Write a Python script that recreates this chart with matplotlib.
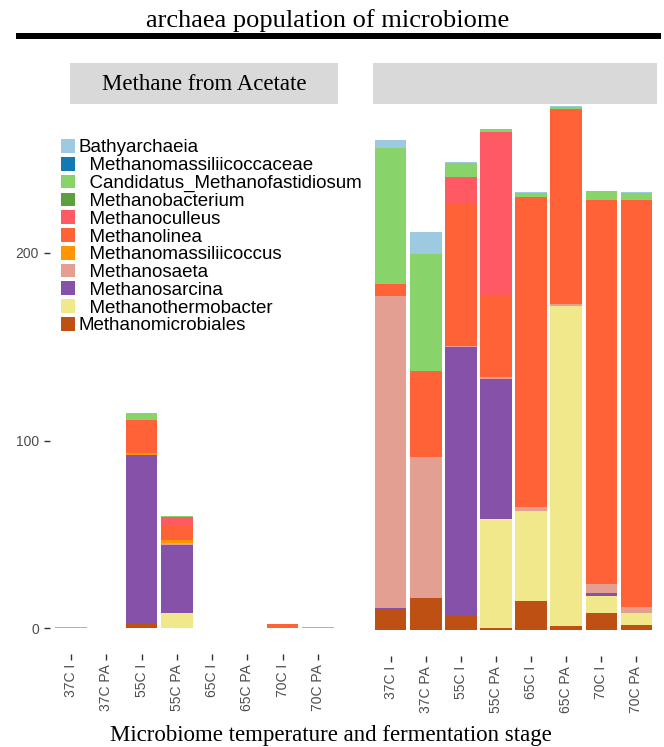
# archaea population stacked bars, two facets side by side
import matplotlib
matplotlib.use("Agg")
import matplotlib.pyplot as plt
from matplotlib.patches import Rectangle
import numpy as np

stages = ["37C I", "37C PA", "55C I", "55C PA", "65C I", "65C PA", "70C I", "70C PA"]

# legend order (top of stack first)
taxa = [
    "Bathyarchaeia", "Methanomassiliicoccaceae", "Candidatus_Methanofastidiosum",
    "Methanobacterium", "Methanoculleus", "Methanolinea", "Methanomassiliicoccus",
    "Methanosaeta", "Methanosarcina", "Methanothermobacter", "Methanomicrobiales"
]
legend_labels = [
    "Bathyarchaeia", "  Methanomassiliicoccaceae", "  Candidatus_Methanofastidiosum",
    "  Methanobacterium", "  Methanoculleus", "  Methanolinea", "  Methanomassiliicoccus",
    "  Methanosaeta", "  Methanosarcina", "  Methanothermobacter", "Methanomicrobiales"
]
colors = [
    "#9ecae1", "#1479b0", "#88d46a", "#5b9f3e", "#ff5a64", "#ff6236",
    "#ff9500", "#e3a092", "#8651a8", "#f0e88a", "#bd5012"
]

# left facet: Methane from Acetate
left = {
    "Bathyarchaeia":                 [0, 0, 0, 0, 0, 0, 0, 0],
    "Methanomassiliicoccaceae":      [0, 0, 0, 0, 0, 0, 0, 0],
    "Candidatus_Methanofastidiosum": [0, 0, 3.9, 0.5, 0, 0, 0, 0],
    "Methanobacterium":              [0.4, 0, 0, 0, 0, 0, 0, 0],
    "Methanoculleus":                [0, 0, 0, 5.0, 0.2, 0, 0, 0],
    "Methanolinea":                  [0, 0, 17.4, 7.5, 0, 0, 2.1, 0],
    "Methanomassiliicoccus":         [0, 0, 1.0, 1.4, 0, 0, 0, 0],
    "Methanosaeta":                  [0.4, 0, 0, 0.9, 0, 0, 0, 0.4],
    "Methanosarcina":                [0, 0, 90.0, 36.4, 0, 0, 0, 0],
    "Methanothermobacter":           [0, 0.2, 0, 8.0, 0, 0, 0, 0],
    "Methanomicrobiales":            [0, 0, 2.3, 0, 0, 0, 0, 0],
}

# right facet (no strip label)
right = {
    "Bathyarchaeia":                 [4.1, 11.9, 0.5, 0, 0.7, 0.9, 0, 0.5],
    "Methanomassiliicoccaceae":      [0, 0, 0, 0, 0, 0, 0, 0],
    "Candidatus_Methanofastidiosum": [72.3, 62.2, 7.8, 1.4, 2.1, 1.1, 4.6, 3.5],
    "Methanobacterium":              [0, 0, 0, 0, 0, 0, 0, 0],
    "Methanoculleus":                [0, 0, 14.4, 87.5, 0, 0, 0, 0],
    "Methanolinea":                  [6.6, 46.0, 75.4, 43.5, 165.3, 104.0, 205.2, 217.2],
    "Methanomassiliicoccus":         [0, 0, 0, 0, 0, 0, 0, 0],
    "Methanosaeta":                  [166.7, 75.2, 0.5, 0.9, 2.3, 0.9, 4.4, 3.2],
    "Methanosarcina":                [0.5, 0, 143.1, 74.7, 0, 0, 2.1, 0],
    "Methanothermobacter":           [0, 0, 0, 58.3, 47.8, 170.5, 8.7, 6.7],
    "Methanomicrobiales":            [11.0, 16.9, 8.0, 0.9, 15.6, 2.3, 9.2, 2.5],
}

W, H = 664, 747
fig = plt.figure(figsize=(W / 100, H / 100), dpi=100)

def px(x0, y0, x1, y1):
    # pixel box (top-left origin) -> figure fraction [l, b, w, h]
    return [x0 / W, 1 - y1 / H, (x1 - x0) / W, (y1 - y0) / H]

ax1 = fig.add_axes(px(50, 103, 339, 654.25))
ax2 = fig.add_axes(px(369.5, 105, 657.5, 656.25))

xpos = np.arange(1, len(stages) + 1)
handles = []
for ax, data in [(ax1, left), (ax2, right)]:
    bottom = np.zeros(len(stages))
    for name in taxa[::-1]:
        vals = np.array(data[name], dtype=float)
        col = colors[taxa.index(name)]
        b = ax.bar(xpos, vals, 0.9, bottom=bottom, color=col, linewidth=0)
        if ax is ax1:
            handles.append(b)
        bottom += vals
    ax.set_xlim(0.4, 8.6)
    ax.set_ylim(-14, 280)
    for s in ax.spines.values():
        s.set_visible(False)
    ax.set_xticks(xpos)
    ax.set_xticklabels(stages, rotation=90, fontsize=10, color="#4d4d4d",
                       family="Liberation Sans")
    ax.tick_params(axis="x", length=4, width=1, color="#333333", pad=3)

ax1.set_yticks([0, 100, 200])
ax1.set_yticklabels(["0", "100", "200"], fontsize=10, color="#4d4d4d",
                    family="Liberation Sans")
ax1.tick_params(axis="y", length=4, width=1, color="#333333", pad=4)
ax2.set_yticks([])

# legend (legend order = top of stack first)
handles = handles[::-1]
leg = fig.legend(handles, legend_labels, loc="upper left",
                 bbox_to_anchor=(61 / W, 1 - 139 / H), frameon=False,
                 prop={"family": "Liberation Sans", "size": 13.5},
                 handlelength=0.75, handleheight=0.75, handletextpad=0.2,
                 labelspacing=0.02, borderpad=0, borderaxespad=0)

# title and rule
fig.text(328 / W, 1 - 21 / H, "archaea population of microbiome", ha="center",
         va="center", family="Liberation Serif", fontsize=19)
fig.add_artist(Rectangle((16 / W, 1 - 39 / H), (661 - 16) / W, 6 / H,
                         transform=fig.transFigure, color="black", linewidth=0))

# facet strips
fig.add_artist(Rectangle((70 / W, 1 - 104 / H), (338 - 70) / W, 41 / H,
                         transform=fig.transFigure, color="#d9d9d9", linewidth=0))
fig.add_artist(Rectangle((373 / W, 1 - 104 / H), (657 - 373) / W, 41 / H,
                         transform=fig.transFigure, color="#d9d9d9", linewidth=0))
fig.text(204 / W, 1 - 84 / H, "Methane from Acetate", ha="center", va="center",
         family="Liberation Serif", fontsize=16.5)

fig.text(331 / W, 1 - 735 / H, "Microbiome temperature and fermentation stage",
         ha="center", va="center", family="Liberation Serif", fontsize=16.5)

fig.savefig("out.png", dpi=100)
